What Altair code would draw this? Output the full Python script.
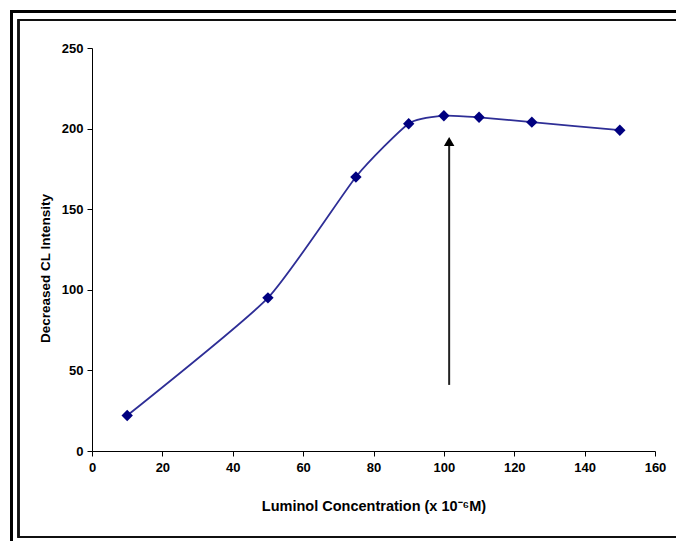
import altair as alt
import pandas as pd

# data
conc = [10, 50, 75, 90, 100, 110, 125, 150]
intensity = [22, 95, 170, 203, 208, 207, 204, 199]

arrow_x = [101.5]
arrow_y_start = [41]
arrow_y_end = [190]
arrow_head_y = [192]

x_ticks = [0, 20, 40, 60, 80, 100, 120, 140, 160]
y_ticks = [0, 50, 100, 150, 200, 250]

df = pd.DataFrame({"x": conc, "y": intensity})
arrow = pd.DataFrame({"x": arrow_x, "y": arrow_y_start, "y2": arrow_y_end, "yh": arrow_head_y})

FONT = "Liberation Sans"

xscale = alt.Scale(domain=[0, 160], nice=False)
yscale = alt.Scale(domain=[0, 250], nice=False)

xaxis = alt.Axis(
    title="Luminol Concentration (x 10\u207b\u2076M)",
    values=x_ticks, grid=False, tickSize=5, labelPadding=5,
    titlePadding=25, labelFontSize=13, titleFontSize=14.5,
    labelFont=FONT, titleFont=FONT, labelFontWeight="bold", titleFontWeight="bold",
    domainColor="black", tickColor="black", labelColor="black", titleColor="black",
    labelFlush=False,
)
yaxis = alt.Axis(
    title="Decreased CL Intensity",
    values=y_ticks, grid=False, tickSize=5, labelPadding=4,
    titleX=-47, titleY=220, titleBaseline="middle", titleAngle=-90, titleAlign="center",
    labelFontSize=13, titleFontSize=13.5,
    labelFont=FONT, titleFont=FONT, labelFontWeight="bold", titleFontWeight="bold",
    domainColor="black", tickColor="black", labelColor="black", titleColor="black",
)

base = alt.Chart(df)

line = base.mark_line(interpolate="cardinal", tension=0.45, color="#2e2e96", strokeWidth=1.8).encode(
    x=alt.X("x:Q", scale=xscale, axis=xaxis),
    y=alt.Y("y:Q", scale=yscale, axis=yaxis),
)
pts = base.mark_point(shape="diamond", filled=True, color="#000080", size=130, opacity=1).encode(
    x=alt.X("x:Q", scale=xscale),
    y=alt.Y("y:Q", scale=yscale),
)

arrow_line = alt.Chart(arrow).mark_rule(color="#222222", strokeWidth=2).encode(
    x=alt.X("x:Q", scale=xscale),
    y=alt.Y("y:Q", scale=yscale),
    y2="y2:Q",
)
arrow_head = alt.Chart(arrow).mark_point(shape="triangle-up", filled=True, color="black", size=110, opacity=1).encode(
    x=alt.X("x:Q", scale=xscale),
    y=alt.Y("yh:Q", scale=yscale),
)

# decorative double frame (pixel offsets relative to the plot origin)
outer = alt.Chart(df).mark_rect(filled=False, stroke="black", strokeWidth=3, clip=False).encode(
    x=alt.value(-80.5), x2=alt.value(700), y=alt.value(-36.5), y2=alt.value(600)
)
inner = alt.Chart(df).mark_rect(filled=False, stroke="#111111", strokeWidth=1.6, clip=False).encode(
    x=alt.value(-73.5), x2=alt.value(700), y=alt.value(-28), y2=alt.value(489)
)

chart = alt.layer(outer, inner, line, pts, arrow_line, arrow_head).properties(
    width=563, height=403,
    autosize=alt.AutoSizeParams(type="none"),
    padding={"left": 92, "top": 48, "right": 21, "bottom": 90},
    background="white",
).configure_view(stroke=None)

chart.save("out.html", embed_options={"renderer": "svg", "actions": False})
